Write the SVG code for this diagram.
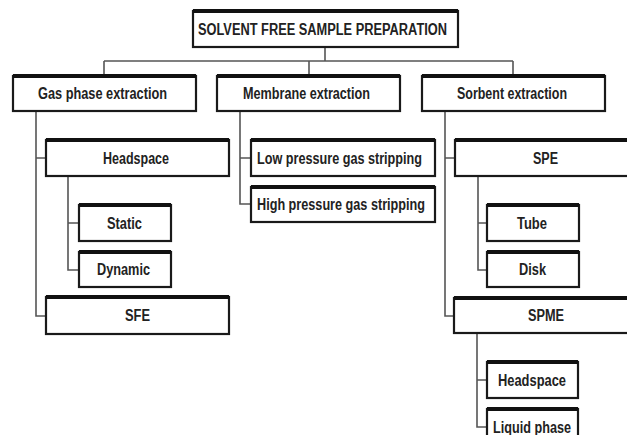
<svg xmlns="http://www.w3.org/2000/svg" width="627" height="435" viewBox="0 0 627 435">
<style>
.box{fill:#fff;stroke:#1a1a1a;stroke-width:2.2}
.top{stroke:#111;stroke-width:4;fill:none}
.lbl{font-family:"Liberation Sans",Arial,sans-serif;font-weight:bold;font-size:16px;fill:#222;text-anchor:middle;dominant-baseline:central}
.conn path{fill:none;stroke:#555;stroke-width:1.6}
</style>
<rect width="627" height="435" fill="#fff"/>
<g class="conn" id="connectors">
<path d="M325 47V61M104 61H513M104 61V76M309 61V76M513 61V76"/>
<path d="M36 111V316H46M36 158H46"/>
<path d="M68 176V270H79M68 223H79"/>
<path d="M240 111V204H251M240 158H251"/>
<path d="M445 111V316H454M445 158H455"/>
<path d="M478 176V270H487M478 223H487"/>
<path d="M477 333V427H487M477 380H487"/>
</g>
<g id="root"><rect class="box" x="193" y="11" width="265" height="36"/><path class="top" d="M193 11H458"/><text class="lbl" x="322.5" y="29" font-size="16.5" textLength="249" lengthAdjust="spacingAndGlyphs">SOLVENT FREE SAMPLE PREPARATION</text></g>
<g id="gas"><rect class="box" x="13" y="76" width="183" height="35"/><path class="top" d="M13 76H196"/><text class="lbl" x="102.5" y="93.5" textLength="129" lengthAdjust="spacingAndGlyphs">Gas phase extraction</text></g>
<g id="membrane"><rect class="box" x="217" y="76" width="183" height="35"/><path class="top" d="M217 76H400"/><text class="lbl" x="306.5" y="93.5" textLength="127" lengthAdjust="spacingAndGlyphs">Membrane extraction</text></g>
<g id="sorbent"><rect class="box" x="422" y="76" width="183" height="35"/><path class="top" d="M422 76H605"/><text class="lbl" x="512" y="93.5" textLength="110" lengthAdjust="spacingAndGlyphs">Sorbent extraction</text></g>
<g id="headspace1"><rect class="box" x="46" y="140" width="183" height="36"/><path class="top" d="M46 140H229"/><text class="lbl" x="136" y="158" textLength="66" lengthAdjust="spacingAndGlyphs">Headspace</text></g>
<g id="static"><rect class="box" x="79" y="205" width="92" height="36"/><path class="top" d="M79 205H171"/><text class="lbl" x="124.5" y="223" textLength="35" lengthAdjust="spacingAndGlyphs">Static</text></g>
<g id="dynamic"><rect class="box" x="79" y="252" width="92" height="35"/><path class="top" d="M79 252H171"/><text class="lbl" x="123.5" y="269.5" textLength="53" lengthAdjust="spacingAndGlyphs">Dynamic</text></g>
<g id="sfe"><rect class="box" x="46" y="297" width="183" height="37"/><path class="top" d="M46 297H229"/><text class="lbl" x="137.5" y="315.5" textLength="25" lengthAdjust="spacingAndGlyphs">SFE</text></g>
<g id="lowpressure"><rect class="box" x="251" y="140" width="184" height="36"/><path class="top" d="M251 140H435"/><text class="lbl" x="339.5" y="158" textLength="165" lengthAdjust="spacingAndGlyphs">Low pressure gas stripping</text></g>
<g id="highpressure"><rect class="box" x="251" y="187" width="184" height="35"/><path class="top" d="M251 187H435"/><text class="lbl" x="341" y="204.5" textLength="168" lengthAdjust="spacingAndGlyphs">High pressure gas stripping</text></g>
<g id="spe"><rect class="box" x="455" y="140" width="190" height="36"/><path class="top" d="M455 140H645"/><text class="lbl" x="545.5" y="158" textLength="25" lengthAdjust="spacingAndGlyphs">SPE</text></g>
<g id="tube"><rect class="box" x="487" y="205" width="92" height="36"/><path class="top" d="M487 205H579"/><text class="lbl" x="532" y="223" textLength="30" lengthAdjust="spacingAndGlyphs">Tube</text></g>
<g id="disk"><rect class="box" x="487" y="252" width="92" height="35"/><path class="top" d="M487 252H579"/><text class="lbl" x="532.5" y="269.5" textLength="27" lengthAdjust="spacingAndGlyphs">Disk</text></g>
<g id="spme"><rect class="box" x="454" y="298" width="190" height="35"/><path class="top" d="M454 298H644"/><text class="lbl" x="546" y="315.5" textLength="36" lengthAdjust="spacingAndGlyphs">SPME</text></g>
<g id="headspace2"><rect class="box" x="487" y="362" width="91" height="36"/><path class="top" d="M487 362H578"/><text class="lbl" x="532" y="380" textLength="68" lengthAdjust="spacingAndGlyphs">Headspace</text></g>
<g id="liquidphase"><rect class="box" x="487" y="409" width="91" height="40"/><path class="top" d="M487 409H578"/><text class="lbl" x="532" y="427" textLength="78" lengthAdjust="spacingAndGlyphs">Liquid phase</text></g>
</svg>
